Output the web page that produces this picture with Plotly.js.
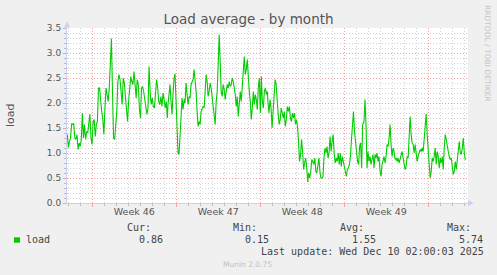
<!DOCTYPE html>
<html>
<head>
<meta charset="utf-8">
<script src="https://cdn.plot.ly/plotly-3.0.1.min.js"></script>
<style>
html,body{margin:0;padding:0;background:#f0f0f0;}
#chart{width:497px;height:275px;}
</style>
</head>
<body>
<div id="chart"></div>
<script>
// ---- Data (load average, ~2h samples) ----
const segStarts = ['2025-11-06 22:00', '2025-11-15 07:24', '2025-11-23 15:24', '2025-12-01 15:24'];
const segEnds   = ['2025-11-15 06:06', '2025-11-23 14:06', '2025-12-01 12:42', '2025-12-10 02:00'];

const seg1Values = [1.37,1.11,1.23,1.30,1.58,1.57,1.59,1.30,1.27,1.37,
  1.07,1.20,1.13,1.27,1.80,1.30,1.57,1.27,1.43,1.40,
  1.60,1.78,1.30,1.17,1.63,1.67,1.33,1.57,1.63,2.30,
  2.30,2.00,1.83,1.67,1.37,1.90,2.30,2.17,2.03,2.30,
  2.77,3.29,2.23,1.30,1.27,1.57,1.83,2.43,2.57,2.47,
  2.17,1.97,2.50,2.40,2.13,1.90,1.63,2.03,2.27,2.53,
  2.43,2.37,2.63,2.30,2.10,2.47,2.37,1.90,1.70,2.30,
  2.33,2.23,2.07,1.97,1.77,1.90,2.73,2.23,1.97,2.10,
  1.93,1.90,2.23,2.47,2.30,2.03,1.97,2.13,1.93,2.20,
  2.07,1.90,2.03,1.70];

const seg2Values = [1.97,2.23,2.37,2.03,1.77,2.17,2.50,2.58,1.90,1.37,
  1.00,0.97,1.37,1.90,2.10,1.87,2.07,2.00,2.40,2.17,
  1.97,2.13,2.10,2.37,2.43,2.47,2.67,2.50,2.23,1.83,
  1.53,1.63,1.57,1.83,1.90,1.93,1.90,2.23,2.57,2.43,
  2.13,2.23,2.40,2.30,2.10,1.90,1.83,1.57,2.03,2.23,
  2.77,3.37,2.83,2.23,2.13,2.37,2.27,2.07,2.23,2.37,
  2.30,2.43,2.33,2.37,2.50,2.43,2.30,2.17,1.93,2.13,
  1.73,1.97,2.23,2.03,2.37,2.57,2.93,2.57,2.67,2.87,
  2.43,2.23,2.03,1.67,1.90,2.23,1.97,2.17,2.07,1.87,
  2.33,2.50,1.80,2.53,2.03,1.90,2.23,2.30,2.17,2.23];

const seg3Values = [2.00,1.80,2.07,1.90,1.50,1.83,2.23,2.47,2.37,1.97,
  1.77,1.57,1.67,1.90,1.77,1.70,1.83,1.53,1.67,1.93,
  1.83,1.93,1.70,1.63,1.80,1.70,1.80,1.57,1.67,1.53,
  1.23,0.83,0.97,1.27,1.03,0.67,0.80,0.90,0.73,0.42,
  0.60,0.50,0.63,0.87,0.83,0.77,0.90,0.63,0.60,0.77,
  0.90,0.63,0.50,0.50,0.53,0.90,1.10,1.00,1.13,0.90,
  1.00,1.33,1.03,1.23,1.37,1.00,0.80,0.90,0.83,1.00,
  0.77,1.00,0.73,0.93,0.83,0.73,0.63,0.53,0.67,0.70,
  0.77,0.93,1.27,1.57,1.83,1.43,1.23,0.90,0.83,0.77,
  1.13,1.20,0.70,1.57];

const seg4Values = [1.63,2.07,1.57,0.70,1.03,0.83,0.93,0.77,0.90,0.97,
  0.70,0.97,0.90,1.00,0.83,0.93,0.63,0.53,0.77,0.83,
  0.93,0.80,0.93,1.17,1.13,1.30,1.57,1.17,0.93,1.10,
  1.03,0.87,0.90,0.83,0.90,0.80,0.90,0.93,1.03,0.90,
  0.77,0.67,0.73,0.93,0.90,1.30,1.73,1.37,1.20,1.17,
  1.00,1.17,0.93,0.83,0.93,1.03,1.07,1.03,1.10,1.03,
  1.30,1.57,1.78,1.37,0.93,0.77,0.50,0.63,0.90,0.83,
  0.93,1.10,0.77,1.03,0.93,0.70,0.90,0.80,0.93,0.67,
  1.10,1.37,1.27,1.10,1.03,0.93,0.87,0.90,0.77,0.57,
  0.63,0.83,0.67,0.87,1.03,1.23,1.00,0.97,1.10,1.30,
  1.00,0.86];

const weekTickDates = ['2025-11-12 12:00', '2025-11-19 12:00', '2025-11-26 12:00', '2025-12-03 12:00'];
const weekTickLabels = ['Week 46', 'Week 47', 'Week 48', 'Week 49'];
const seriesName = 'load';
const statHeaders = ['Cur:', 'Min:', 'Avg:', 'Max:'];
const statValues = ['0.86', '0.15', '1.55', '5.74'];
const lastUpdate = 'Last update: Wed Dec 10 02:00:03 2025';

// ---- Build series (each segment's samples are evenly spaced in time) ----
function toMs(s) { return Date.parse(s.replace(' ', 'T') + ':00Z'); }
const segValues = [seg1Values, seg2Values, seg3Values, seg4Values];
const xs = [], ys = [];
segValues.forEach(function (vals, k) {
  const a = toMs(segStarts[k]), b = toMs(segEnds[k]);
  const n = vals.length;
  vals.forEach(function (v, i) {
    xs.push(a + (b - a) * i / (n - 1));
    ys.push(v);
  });
});

// ---- Layout helpers (pixel -> paper) ----
const W = 497, H = 275, L = 67, R = 29, T = 28, B = 72;
const PW = W - L - R, PH = H - T - B;
function px(x) { return (x - L) / PW; }
function py(y) { return (H - B - y) / PH; }

const xRange = ['2025-11-06 21:24', '2025-12-10 07:24'];
const mono = 'DejaVu Sans Mono';
const sans = 'DejaVu Sans';
const axisCol = '#c9cff5';
const majorGrid = '#f2a0a0';
const minorGrid = '#d2d2d2';

const annotations = [];
function ann(text, x, y, opts) {
  annotations.push(Object.assign({
    text: text, xref: 'paper', yref: 'paper', x: px(x), y: py(y),
    showarrow: false, xanchor: 'left', yanchor: 'middle',
    borderpad: 0, borderwidth: 0,
    font: {family: mono, size: 10, color: '#444'}
  }, opts || {}));
}
// y axis title
ann('load', 10.5, 115.5, {xanchor: 'center', textangle: -90, font: {family: sans, size: 11, color: '#555'}});
// vertical credit
ann('RRDTOOL / TOBI OETIKER', 488, 53, {xanchor: 'center', textangle: 90, font: {family: sans, size: 7.5, color: '#c4c4c4'}});
// legend / stats
ann(seriesName, 25.6, 239.7);
const headerX = [126.6, 233.3, 340.0, 446.6];
statHeaders.forEach(function (h, i) { ann(h, headerX[i], 227.7); });
statValues.forEach(function (v, i) { ann(v, headerX[i] + 12.04, 239.7); });
ann(lastUpdate, 260.8, 251.7);
ann('Munin 2.0.75', 247.8, 264, {xanchor: 'center', font: {family: sans, size: 7.5, color: '#c0c0c0'}});

const shapes = [
  // legend colour square
  {type: 'rect', xref: 'paper', yref: 'paper', x0: px(14), x1: px(20), y0: py(242.7), y1: py(237.3),
   fillcolor: '#00cc00', line: {width: 0}},
  // x axis arrow
  {type: 'path', xref: 'paper', yref: 'paper',
   path: 'M ' + px(468) + ' ' + py(200) + ' L ' + px(473.5) + ' ' + py(203) + ' L ' + px(468) + ' ' + py(206) + ' Z',
   fillcolor: axisCol, line: {width: 0}},
  // y axis arrow
  {type: 'path', xref: 'paper', yref: 'paper',
   path: 'M ' + px(64) + ' ' + py(27.5) + ' L ' + px(67) + ' ' + py(21.5) + ' L ' + px(70) + ' ' + py(27.5) + ' Z',
   fillcolor: axisCol, line: {width: 0}},
  {type: 'line', xref: 'paper', yref: 'paper', x0: px(66.5), x1: px(66.5), y0: py(28), y1: py(25),
   line: {color: axisCol, width: 1}}
];

const traces = [
  {x: xs, y: ys, type: 'scatter', mode: 'lines', name: seriesName,
   line: {color: '#00cc00', width: 1.1}, hoverinfo: 'skip', showlegend: false},
  {x: xs, y: ys, type: 'scatter', mode: 'lines', xaxis: 'x2',
   line: {color: 'rgba(0,0,0,0)', width: 0}, hoverinfo: 'skip', showlegend: false}
];

const layout = {
  width: W, height: H,
  margin: {l: L, r: R, t: T, b: B, autoexpand: false},
  paper_bgcolor: '#f0f0f0', plot_bgcolor: '#ffffff',
  showlegend: false,
  title: {text: 'Load average - by month', font: {family: sans, size: 13.5, color: '#555'},
          x: 0.5, xref: 'container', xanchor: 'center', y: 1 - 19 / H, yref: 'container', yanchor: 'middle'},
  xaxis: {
    type: 'date', range: xRange, tickmode: 'array', tickvals: weekTickDates, ticktext: weekTickLabels,
    ticks: '', showgrid: false, zeroline: false, showline: true, linecolor: axisCol, linewidth: 1,
    tickfont: {family: sans, size: 9.5, color: '#555'}, fixedrange: true
  },
  xaxis2: {
    type: 'date', range: xRange, overlaying: 'x', anchor: 'y', side: 'bottom',
    tick0: '2025-11-09', dtick: 7 * 86400000, showticklabels: false,
    showgrid: true, gridcolor: majorGrid, gridwidth: 1, griddash: '1px,2px',
    ticks: 'outside', ticklen: 3, tickcolor: majorGrid, tickwidth: 1,
    zeroline: false, showline: false,
    minor: {tick0: '2025-11-09', dtick: 86400000, showgrid: true, gridcolor: minorGrid, gridwidth: 1,
            griddash: '1px,2px', ticks: 'outside', ticklen: 2, tickcolor: '#bbbbbb', tickwidth: 1},
    fixedrange: true
  },
  yaxis: {
    range: [0, 3.5], tick0: 0, dtick: 0.5, tickformat: '.1f',
    showgrid: true, gridcolor: majorGrid, gridwidth: 1, griddash: '1px,2px',
    ticks: 'outside', ticklen: 3, tickcolor: majorGrid, tickwidth: 1,
    minor: {dtick: 0.1, showgrid: true, gridcolor: minorGrid, gridwidth: 1, griddash: '1px,2px',
            ticks: 'outside', ticklen: 2, tickcolor: '#bbbbbb', tickwidth: 1},
    zeroline: false, showline: true, linecolor: axisCol, linewidth: 1,
    tickfont: {family: sans, size: 9, color: '#555'}, fixedrange: true
  },
  annotations: annotations,
  shapes: shapes
};

Plotly.newPlot('chart', traces, layout, {displayModeBar: false, staticPlot: true});
</script>
</body>
</html>
